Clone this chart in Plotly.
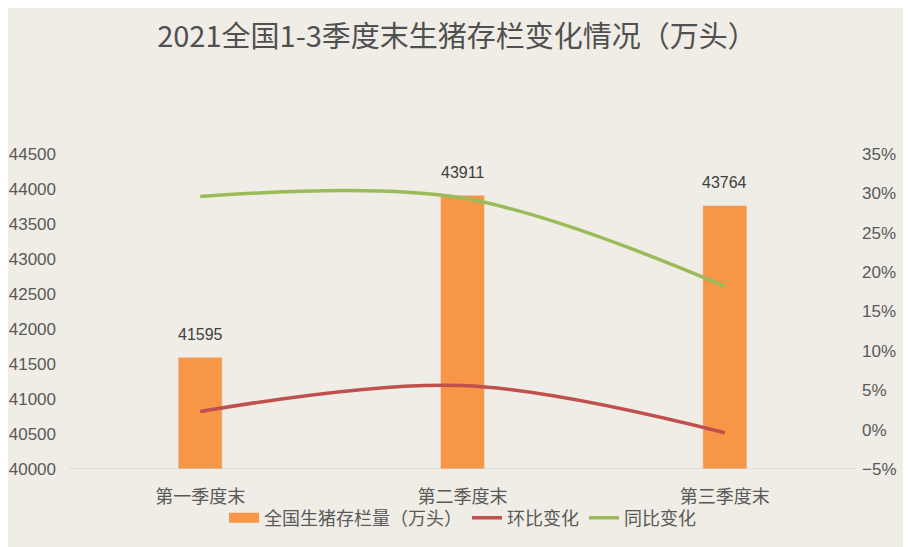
import plotly.graph_objects as go

categories = ["第一季度末", "第二季度末", "第三季度末"]
stock = [41595, 43911, 43764]
qoq = [2.3, 5.6, -0.4]
yoy = [29.6, 29.4, 18.2]

stock_name = "全国生猪存栏量（万头）"
font_cn = "Noto Sans CJK SC"
txt_color = "#595959"
bar_color = "#F79646"

W, H = 903, 539  # page body has an 8px margin

fig = go.Figure()
fig.add_trace(go.Bar(
    x=categories, y=stock, name=stock_name,
    marker_color=bar_color, width=0.168, showlegend=False,
))
# legend swatch for the bar series (no data)
fig.add_trace(go.Scatter(
    x=[None], y=[None], name=stock_name, mode="lines",
    line=dict(color=bar_color, width=13),
))
fig.add_trace(go.Scatter(
    x=categories, y=qoq, name="环比变化", yaxis="y2", mode="lines",
    line=dict(color="#C0504D", width=3.5, shape="spline", smoothing=1),
))
fig.add_trace(go.Scatter(
    x=categories, y=yoy, name="同比变化", yaxis="y2", mode="lines",
    line=dict(color="#9BBB59", width=3.5, shape="spline", smoothing=1),
))

for c, v in zip(categories, stock):
    fig.add_annotation(x=c, y=v, xref="x", yref="y", text=str(v), showarrow=False,
                       yshift=23, font=dict(size=16, color="#404040", family="Liberation Sans"))

fig.update_layout(
    width=W, height=H,
    paper_bgcolor="#EFEDE5", plot_bgcolor="#EFEDE5",
    margin=dict(l=61, r=55, t=146, b=78, autoexpand=False),
    title=dict(text="2021全国1-3季度末生猪存栏变化情况（万头）", x=449 / W, xanchor="center",
               y=1 - 29 / H, yanchor="middle",
               font=dict(family=font_cn, size=29, color="#505050")),
    font=dict(family=font_cn, color=txt_color),
    xaxis=dict(showgrid=False, showline=False, ticks="outside", ticklen=11,
               tickcolor="rgba(0,0,0,0)",
               tickfont=dict(size=18, color=txt_color, family=font_cn)),
    yaxis=dict(range=[40000, 44500], dtick=500, showgrid=False, zeroline=False,
               showline=False, ticks="", ticklabelstandoff=12,
               tickfont=dict(size=17, color=txt_color, family="Liberation Sans"),
               tickformat="d"),
    yaxis2=dict(range=[-5, 35], dtick=5, overlaying="y", side="right", showgrid=False,
                zeroline=False, showline=False, ticksuffix="%", ticklabelstandoff=5,
                tickfont=dict(size=17, color=txt_color, family="Liberation Sans")),
    legend=dict(orientation="h", x=0.5, xanchor="center", yref="container",
                y=1 - 510 / H, yanchor="middle",
                font=dict(size=18, color=txt_color, family=font_cn),
                bgcolor="rgba(0,0,0,0)", tracegroupgap=0),
    showlegend=True,
)
fig.add_shape(type="line", xref="paper", yref="y", x0=0, x1=1, y0=40000, y1=40000,
              line=dict(color="#D0CEC8", width=1))

fig.write_html("out.html")
